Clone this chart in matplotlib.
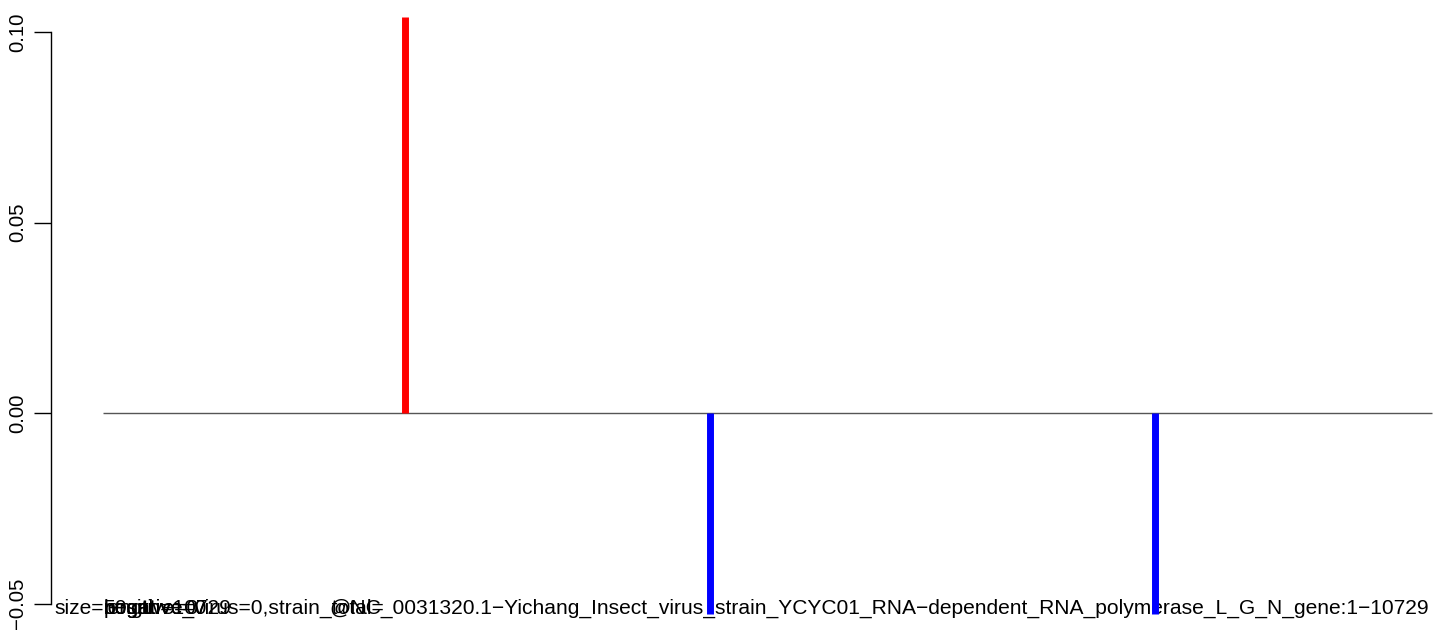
import matplotlib
matplotlib.use("Agg")
import matplotlib.pyplot as plt
from matplotlib.transforms import offset_copy

# positions along the genome (1..10729) and signal values
positions = [2435, 4897, 8497]
values = [0.104, -0.0527, -0.0527]
bar_colors = ["red", "blue", "blue"]
genome_start, genome_end = 1, 10729

yticks = [-0.05, 0.00, 0.05, 0.10]
ytick_labels = ["\u22120.05", "0.00", "0.05", "0.10"]

label_head = "size="
label_overlap = ["50", "positive=0", "length=10729", "negative=0",
                 "negative_virus=0,strain_total="]
label_tail = "NC_0031320.1\u2212Yichang_Insect_virus_strain_YCYC01_RNA\u2212dependent_RNA_polymerase_L_G_N_gene:1\u221210729"

plt.rcParams["font.family"] = ["Liberation Sans", "DejaVu Sans"]

fig = plt.figure(figsize=(14.44, 6.34), dpi=100)
ax = fig.add_axes([51 / 1444, 0, 1 - 51 / 1444, 1])

ax.set_xlim(-419, 10826)
ax.set_ylim(-0.0580, 0.1084)

# baseline at zero
ax.hlines(0, genome_start, genome_end, color="#555555", linewidth=1.0, zorder=2)

# bottom text, overlapping like in the original
fs = 15.1
text_y = -0.0512
ytrans = ax.get_yaxis_transform()
t0 = ax.text(0, text_y, label_head, fontsize=fs, va="center", ha="left",
             transform=offset_copy(ytrans, fig=fig, x=3, y=0, units="dots"))
fig.canvas.draw()
w = t0.get_window_extent().width
for s in label_overlap:
    ax.text(0, text_y, s, fontsize=fs, va="center", ha="left",
            transform=offset_copy(ytrans, fig=fig, x=3 + w, y=0, units="dots"))
ax.text(genome_end, text_y, "@" + label_tail, fontsize=fs, va="center", ha="right",
        transform=offset_copy(ax.transData, fig=fig, x=-3, y=0, units="dots"))

# bars drawn as thick vertical lines
ax.vlines(positions, 0, values, colors=bar_colors, linewidth=5.0, capstyle="butt", zorder=3)

for side in ["top", "right", "bottom"]:
    ax.spines[side].set_visible(False)
ax.spines["left"].set_bounds(-0.05, 0.10)
ax.spines["left"].set_linewidth(1.0)
ax.set_xticks([])
ax.set_yticks(yticks)
ax.set_yticklabels(ytick_labels, rotation=90, va="center", fontsize=14.7)
ax.tick_params(axis="y", length=12, width=1.0, pad=5)

fig.savefig("out.png", dpi=100)
